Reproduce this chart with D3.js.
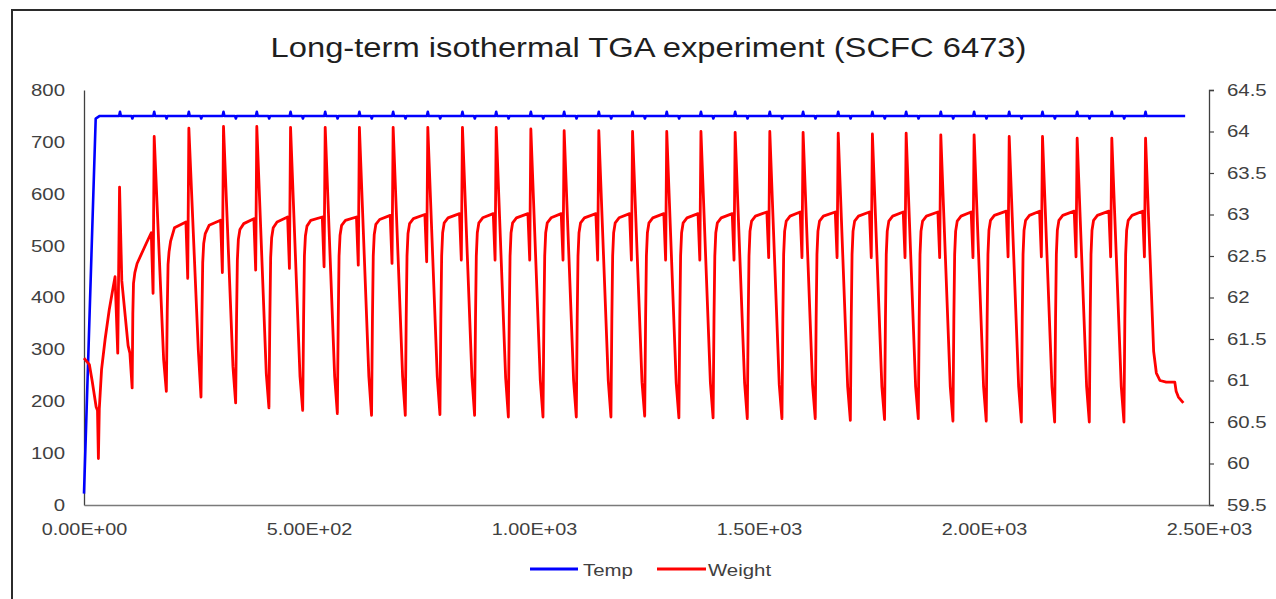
<!DOCTYPE html>
<html>
<head>
<meta charset="utf-8">
<script src="https://cdn.jsdelivr.net/npm/d3@7"></script>
<style>
  html, body { margin: 0; padding: 0; background: #ffffff; }
  svg { display: block; font-family: "Liberation Sans", Arial, sans-serif; }
</style>
</head>
<body>
<svg id="chart" width="1276" height="599"></svg>
<script>
// ---------------- DATA ----------------
const chartTitle = "Long-term isothermal TGA experiment (SCFC 6473)";
const seriesNames = ["Temp", "Weight"];

const xTickValues = [0, 500, 1000, 1500, 2000, 2500];
const xTickLabels = ["0.00E+00", "5.00E+02", "1.00E+03", "1.50E+03", "2.00E+03", "2.50E+03"];
const leftTickValues = [0, 100, 200, 300, 400, 500, 600, 700, 800];
const rightTickValues = [59.5, 60, 60.5, 61, 61.5, 62, 62.5, 63, 63.5, 64, 64.5];
const rightTickLabels = ["59.5", "60", "60.5", "61", "61.5", "62", "62.5", "63", "63.5", "64", "64.5"];

// Temperature (left axis)
const tempStartTime = [0, 26, 35];
const tempStartValue = [22, 745, 750];
const tempBase = 750;
const tempSpikeTime = [80, 156, 233, 310, 384, 459, 536, 612, 687, 764, 841, 916, 993, 1067, 1144, 1219,
  1295, 1371, 1447, 1524, 1598, 1676, 1752, 1827, 1904, 1978, 2056, 2130, 2207, 2284, 2359];
const tempSpikeValue = 758;
const tempNotchValue = 745;
const tempEndTime = 2447;
const tempEndValue = 750;

// Weight (right axis): irregular start segment
const startTime = [0, 12, 18, 27, 30, 32, 34, 39, 47, 56, 65, 69, 75, 79, 84, 98, 102, 107, 108.5, 110, 113, 118, 139];
const startWeight = [61.27, 61.19, 61.0, 60.68, 60.64, 60.06, 60.66, 61.13, 61.5, 61.85, 62.13, 62.25,
  61.33, 63.33, 62.2, 61.42, 61.33, 60.91, 61.8, 62.17, 62.3, 62.41, 62.66];

// Weight: one entry per switching cycle (time of peak)
const cycleTime = [156, 233, 310, 384, 459, 536, 612, 687, 764, 841, 916, 993, 1067, 1144, 1219,
  1295, 1371, 1447, 1524, 1598, 1676, 1752, 1827, 1904, 1978, 2056, 2130, 2207, 2284, 2359];
const plateauWeight = [62.78, 62.91, 62.93, 62.95, 62.97, 62.97, 62.97, 62.99, 63.00, 63.01, 63.01, 63.01,
  63.01, 63.01, 63.01, 63.01, 63.01, 63.01, 63.03, 63.03, 63.03, 63.03, 63.03, 63.03, 63.03, 63.04, 63.04,
  63.04, 63.04, 63.04];
const dipWeight = [62.05, 62.23, 62.30, 62.33, 62.35, 62.37, 62.39, 62.41, 62.43, 62.45, 62.45, 62.45,
  62.45, 62.45, 62.45, 62.45, 62.45, 62.45, 62.48, 62.48, 62.48, 62.48, 62.48, 62.48, 62.48, 62.49, 62.49,
  62.49, 62.49, 62.49];
const peakWeight = [63.94, 64.04, 64.06, 64.06, 64.05, 64.05, 64.05, 64.05, 64.05, 64.05, 64.05, 64.03,
  64.01, 64.01, 64.00, 64.00, 64.00, 63.99, 64.00, 63.99, 63.98, 63.97, 63.98, 63.96, 63.96, 63.94, 63.94,
  63.92, 63.92, 63.92];
const kinkWeight = [61.25, 61.37, 61.17, 61.09, 61.05, 61.05, 61.05, 61.05, 61.05, 61.05, 61.03, 61.0,
  61.0, 61.0, 60.98, 60.97, 60.97, 60.97, 60.95, 60.95, 60.93, 60.93, 60.93, 60.93, 60.93, 60.93, 60.93,
  60.93, 60.93];
const troughWeight = [60.87, 60.80, 60.73, 60.67, 60.64, 60.60, 60.58, 60.58, 60.59, 60.58, 60.56, 60.56,
  60.56, 60.56, 60.57, 60.55, 60.55, 60.54, 60.54, 60.54, 60.52, 60.53, 60.54, 60.51, 60.51, 60.50, 60.50,
  60.50, 60.50];
const riseLowWeight = [61.85, 61.75, 61.75, 61.75, 61.75, 61.75, 61.75, 61.75, 61.75, 61.75, 61.75, 61.75,
  61.75, 61.75, 61.75, 61.75, 61.75, 61.75, 61.75, 61.75, 61.75, 61.75, 61.75, 61.75, 61.75, 61.75, 61.75,
  61.75, 61.75];
const riseWeight = [62.40, 62.42, 62.45, 62.48, 62.50, 62.50, 62.50, 62.50, 62.50, 62.50, 62.50, 62.50,
  62.50, 62.50, 62.50, 62.50, 62.50, 62.50, 62.52, 62.52, 62.52, 62.52, 62.52, 62.52, 62.52, 62.52, 62.52,
  62.52, 62.52];
const bendWeight = [62.55, 62.65, 62.70, 62.72, 62.74, 62.75, 62.76, 62.77, 62.78, 62.78, 62.78, 62.78,
  62.78, 62.78, 62.78, 62.78, 62.78, 62.80, 62.80, 62.80, 62.80, 62.80, 62.80, 62.80, 62.81, 62.81, 62.81,
  62.81, 62.81];
const shoulderWeight = [62.68, 62.77, 62.82, 62.84, 62.86, 62.87, 62.88, 62.89, 62.90, 62.90, 62.90, 62.90,
  62.90, 62.90, 62.90, 62.90, 62.90, 62.92, 62.92, 62.92, 62.92, 62.92, 62.92, 62.92, 62.93, 62.93, 62.93,
  62.93, 62.93];
const settleWeight = [62.84, 62.87, 62.89, 62.91, 62.93, 62.93, 62.94, 62.95, 62.96, 62.96, 62.96, 62.96,
  62.96, 62.96, 62.96, 62.96, 62.96, 62.98, 62.98, 62.98, 62.98, 62.98, 62.98, 62.98, 62.99, 62.99, 62.99,
  62.99, 62.99];
// seconds relative to each peak:
// plateau end, dip, peak, kink, trough, riseLow, rise, bend, shoulder, settle
const cycleOffsets = [-6.5, -2.5, 0, 21, 27, 29, 30.8, 33, 36.5, 45];

// Weight: final cool-down tail
const endTime = [2377, 2383, 2391, 2405, 2424, 2427, 2432, 2443];
const endWeight = [61.35, 61.09, 61.0, 60.98, 60.98, 60.87, 60.80, 60.73];

// ---------------- BUILD SERIES ----------------
const tempPoints = tempStartTime.map((t, i) => [t, tempStartValue[i]]);
tempSpikeTime.forEach((s, i) => {
  tempPoints.push([s - 2, tempBase], [s, tempSpikeValue], [s + 2, tempBase]);
  if (i < tempSpikeTime.length - 1) {
    tempPoints.push([s + 25.5, tempBase], [s + 27.5, tempNotchValue], [s + 29.5, tempBase]);
  }
});
tempPoints.push([tempEndTime, tempEndValue]);

const weightPoints = startTime.map((t, i) => [t, startWeight[i]]);
cycleTime.forEach((T, i) => {
  const o = cycleOffsets;
  weightPoints.push([T + o[0], plateauWeight[i]], [T + o[1], dipWeight[i]], [T + o[2], peakWeight[i]]);
  if (i < kinkWeight.length) {
    weightPoints.push(
      [T + o[3], kinkWeight[i]], [T + o[4], troughWeight[i]], [T + o[5], riseLowWeight[i]],
      [T + o[6], riseWeight[i]], [T + o[7], bendWeight[i]], [T + o[8], shoulderWeight[i]],
      [T + o[9], settleWeight[i]]);
  }
});
endTime.forEach((t, i) => weightPoints.push([t, endWeight[i]]));

// ---------------- DRAW ----------------
const svg = d3.select("#chart");
const SX = 1.2; // horizontal text stretch of the source image

svg.append("rect").attr("x", 0).attr("y", 0).attr("width", 1276).attr("height", 599).attr("fill", "#fff");
svg.append("rect").attr("x", 12).attr("y", 10).attr("width", 1300).attr("height", 640)
  .attr("fill", "none").attr("stroke", "#2b2b2b").attr("stroke-width", 2);

const plot = { left: 84, right: 1209, top: 90, bottom: 505 };
const x = d3.scaleLinear().domain([0, 2500]).range([plot.left, plot.right]);
const yL = d3.scaleLinear().domain([0, 800]).range([plot.bottom, plot.top]);
const yR = d3.scaleLinear().domain([59.5, 64.5]).range([plot.bottom, plot.top]);

function stretchText(sel) {
  sel.each(function () {
    const t = d3.select(this);
    const xx = +t.attr("x") || 0;
    t.attr("x", xx / SX).attr("transform", `scale(${SX},1)`);
  });
}

// Left axis
const gL = svg.append("g").attr("transform", `translate(${plot.left},0)`)
  .call(d3.axisLeft(yL).tickValues(leftTickValues).tickSize(0).tickPadding(19));
gL.select(".domain").attr("stroke", "#404040").attr("stroke-width", 1.3);
gL.selectAll("text").attr("font-size", 17).attr("fill", "#404040").attr("font-family", "Liberation Sans, Arial, sans-serif");
stretchText(gL.selectAll("text"));

// Right axis
const gR = svg.append("g").attr("transform", `translate(${plot.right},0)`)
  .call(d3.axisRight(yR).tickValues(rightTickValues).tickSize(5).tickPadding(13)
    .tickFormat((d, i) => rightTickLabels[i]));
gR.select(".domain").attr("stroke", "#404040").attr("stroke-width", 1.3);
gR.selectAll(".tick line").attr("stroke", "#404040").attr("stroke-width", 1.2);
gR.selectAll("text").attr("font-size", 17).attr("fill", "#404040").attr("font-family", "Liberation Sans, Arial, sans-serif");
stretchText(gR.selectAll("text"));

// Bottom axis
const gB = svg.append("g").attr("transform", `translate(0,${plot.bottom})`)
  .call(d3.axisBottom(x).tickValues(xTickValues).tickSize(0).tickPadding(18)
    .tickFormat((d, i) => xTickLabels[i]));
gB.select(".domain").attr("stroke", "#7a7a7a").attr("stroke-width", 1.5);
gB.selectAll("text").attr("font-size", 16.5).attr("fill", "#404040").attr("font-family", "Liberation Sans, Arial, sans-serif");
stretchText(gB.selectAll("text"));

// Lines
const lineT = d3.line().x(d => x(d[0])).y(d => yL(d[1]));
const lineW = d3.line().x(d => x(d[0])).y(d => yR(d[1]));

svg.append("path").datum(tempPoints).attr("d", lineT)
  .attr("fill", "none").attr("stroke", "#0000ff").attr("stroke-width", 2.6).attr("stroke-linejoin", "round");
svg.append("path").datum(weightPoints).attr("d", lineW)
  .attr("fill", "none").attr("stroke", "#ff0000").attr("stroke-width", 2.8).attr("stroke-linejoin", "round");

// Title
svg.append("text").attr("transform", `translate(648.5,57) scale(1.19,1)`)
  .attr("text-anchor", "middle").attr("font-size", 27.5).attr("fill", "#1f1f1f")
  .text(chartTitle);

// Legend
const legendItems = [
  { name: seriesNames[0], color: "#0000ff", x1: 530, x2: 578, tx: 583 },
  { name: seriesNames[1], color: "#ff0000", x1: 657, x2: 706, tx: 708 }
];
const lg = svg.append("g");
legendItems.forEach(it => {
  lg.append("line").attr("x1", it.x1).attr("x2", it.x2).attr("y1", 569).attr("y2", 569)
    .attr("stroke", it.color).attr("stroke-width", 3);
  lg.append("text").attr("transform", `translate(${it.tx},576) scale(${SX},1)`)
    .attr("font-size", 17).attr("fill", "#404040").text(it.name);
});
</script>
</body>
</html>
